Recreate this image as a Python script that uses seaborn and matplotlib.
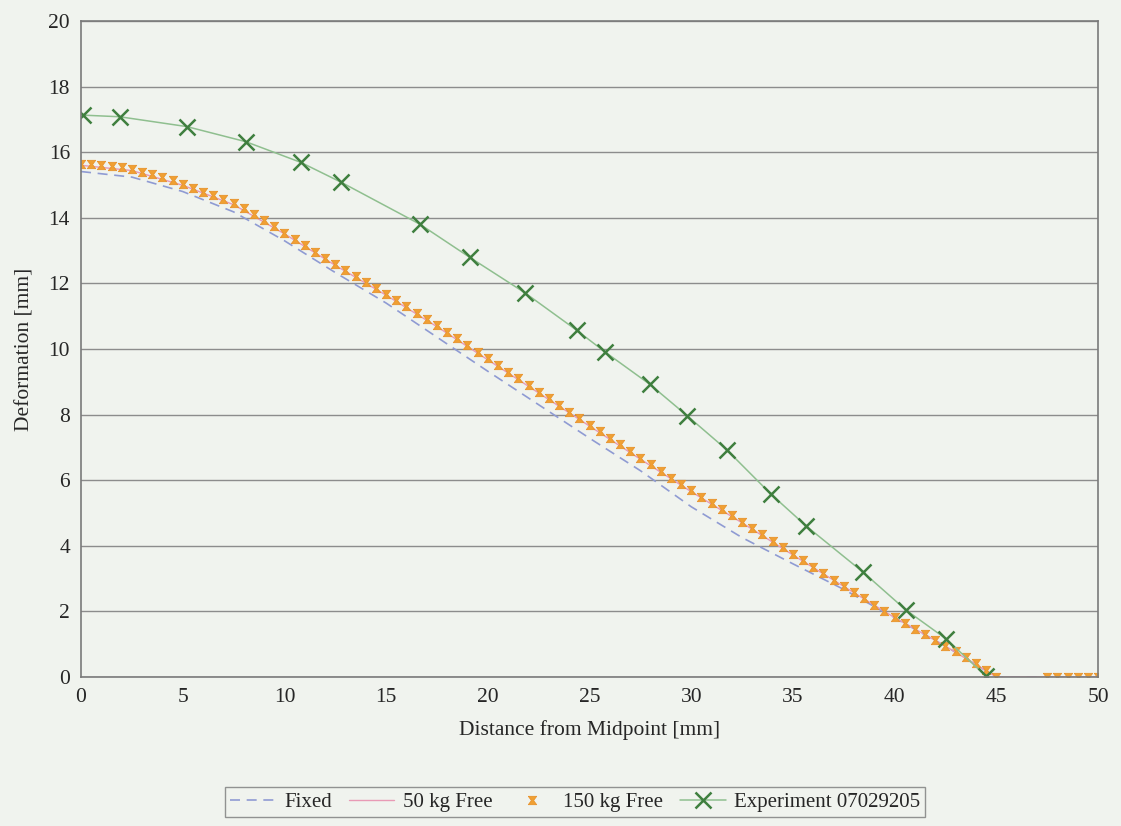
import numpy as np
import pandas as pd
import matplotlib
matplotlib.use("Agg")
import matplotlib.pyplot as plt
import seaborn as sns

# ---------------------------------------------------------
# data
# ---------------------------------------------------------
# 150 kg Free : markers every 0.5 mm
x_150 = [0.0, 0.5, 1.0, 1.5, 2.0, 2.5, 3.0, 3.5, 4.0, 4.5,
         5.0, 5.5, 6.0, 6.5, 7.0, 7.5, 8.0, 8.5, 9.0, 9.5,
         10.0, 10.5, 11.0, 11.5, 12.0, 12.5, 13.0, 13.5, 14.0, 14.5,
         15.0, 15.5, 16.0, 16.5, 17.0, 17.5, 18.0, 18.5, 19.0, 19.5,
         20.0, 20.5, 21.0, 21.5, 22.0, 22.5, 23.0, 23.5, 24.0, 24.5,
         25.0, 25.5, 26.0, 26.5, 27.0, 27.5, 28.0, 28.5, 29.0, 29.5,
         30.0, 30.5, 31.0, 31.5, 32.0, 32.5, 33.0, 33.5, 34.0, 34.5,
         35.0, 35.5, 36.0, 36.5, 37.0, 37.5, 38.0, 38.5, 39.0, 39.5,
         40.0, 40.5, 41.0, 41.5, 42.0, 42.5, 43.0, 43.5, 44.0, 44.5,
         45.0, 47.5, 48.0, 48.5, 49.0, 49.5, 50.0]
y_150 = [15.65, 15.64, 15.62, 15.59, 15.54, 15.48, 15.41, 15.33, 15.24, 15.14,
         15.03, 14.92, 14.80, 14.68, 14.56, 14.44, 14.30, 14.13, 13.94, 13.75,
         13.55, 13.35, 13.16, 12.97, 12.78, 12.59, 12.40, 12.22, 12.04, 11.86,
         11.68, 11.49, 11.30, 11.11, 10.92, 10.72, 10.52, 10.32, 10.11, 9.91,
         9.71, 9.51, 9.31, 9.11, 8.91, 8.70, 8.50, 8.29, 8.09, 7.89,
         7.69, 7.49, 7.29, 7.09, 6.89, 6.68, 6.48, 6.27, 6.07, 5.88,
         5.69, 5.50, 5.31, 5.12, 4.93, 4.74, 4.55, 4.35, 4.15, 3.95,
         3.75, 3.56, 3.36, 3.17, 2.97, 2.78, 2.59, 2.40, 2.21, 2.02,
         1.83, 1.65, 1.47, 1.30, 1.13, 0.96, 0.79, 0.61, 0.42, 0.20,
         0.00, 0.0, 0.0, 0.0, 0.0, 0.0, 0.0]

# Fixed / 50 kg Free : lines
x_line = [0, 2.5, 5, 7.5, 10, 12.5, 15, 17.5, 20, 22.5,
          25, 27.5, 30, 32.5, 35, 37.5, 40, 42.5, 45, 50]
y_fixed = [15.41, 15.24, 14.80, 14.18, 13.30, 12.33, 11.40, 10.36, 9.32, 8.30,
           7.28, 6.29, 5.19, 4.25, 3.45, 2.67, 1.80, 0.94, 0.0, 0.0]
y_50 = [15.60, 15.44, 14.99, 14.40, 13.51, 12.55, 11.64, 10.68, 9.67, 8.66,
        7.65, 6.64, 5.65, 4.70, 3.72, 2.76, 1.81, 0.94, 0.0, 0.0]

# Experiment 07029205
x_exp = [0.08, 1.9, 5.2, 8.1, 10.8, 12.8, 16.67, 19.12, 21.83, 24.37,
         25.76, 27.97, 29.81, 31.74, 33.91, 35.64, 38.46, 40.54, 42.51, 44.49]
y_exp = [17.13, 17.08, 16.78, 16.32, 15.69, 15.08, 13.80, 12.79, 11.71, 10.57,
         9.91, 8.92, 7.96, 6.93, 5.58, 4.61, 3.19, 2.05, 1.17, 0.03]

df_150 = pd.DataFrame({'x': x_150, 'y': y_150})
df_fixed = pd.DataFrame({'x': x_line, 'y': y_fixed})
df_50 = pd.DataFrame({'x': x_line, 'y': y_50})
df_exp = pd.DataFrame({'x': x_exp, 'y': y_exp})

# ---------------------------------------------------------
# style
# ---------------------------------------------------------
bg = '#f0f3ee'
sns.set_style('white')
plt.rcParams['font.family'] = ['Liberation Serif', 'DejaVu Serif']
plt.rcParams['axes.facecolor'] = bg
plt.rcParams['figure.facecolor'] = bg

fig = plt.figure(figsize=(11.21, 8.26), dpi=100)
ax = fig.add_axes([0.0723, 0.1804, 0.9072, 0.7942])

# hourglass marker like the Excel one
hourglass = [(-1, 1), (1, 1), (0.25, 0), (1, -1), (-1, -1), (-0.25, 0), (-1, 1)]

sns.lineplot(data=df_fixed, x='x', y='y', ax=ax, color='#8f9bd3',
             linewidth=1.2, estimator=None, sort=False, label='Fixed',
             dashes=False, linestyle=(0, (6, 4)))
sns.lineplot(data=df_50, x='x', y='y', ax=ax, color='#e89ab5',
             linewidth=1.0, estimator=None, sort=False, label='50 kg Free')
sns.lineplot(data=df_150, x='x', y='y', ax=ax, color='#f0a033',
             linestyle='', marker=hourglass, markersize=6,
             markeredgewidth=0.6, markeredgecolor='#e8922a',
             estimator=None, sort=False, label='150 kg Free')
sns.lineplot(data=df_exp, x='x', y='y', ax=ax, color='#8fbf8f',
             linewidth=1.1, marker='x', markersize=11,
             markeredgewidth=1.8, markeredgecolor='#3f7f3f',
             estimator=None, sort=False, label='Experiment 07029205')

# axes
ax.set_xlim(0, 50)
ax.set_ylim(0, 20)
ax.set_xticks(np.arange(0, 51, 5))
ax.set_yticks(np.arange(0, 21, 2))
ax.yaxis.grid(True, color='#8c8c8c', linewidth=1.0)
ax.set_axisbelow(True)
for s in ax.spines.values():
    s.set_color('#7a7a7a')
    s.set_linewidth(1.2)
ax.tick_params(axis='both', direction='out', length=5, width=1,
               color='#7a7a7a', labelsize=15.5, pad=3)
ax.set_xlabel('Distance from Midpoint [mm]', fontsize=15.5, labelpad=9)
ax.set_ylabel('Deformation [mm]', fontsize=15.5, labelpad=10)

ax.get_legend().remove()
handles, labels = ax.get_legend_handles_labels()
leg = fig.legend(handles, labels, loc='center', bbox_to_anchor=(0.513, 0.029),
                 ncol=4, fontsize=15, frameon=True, fancybox=False,
                 edgecolor='#7a7a7a', facecolor=bg, handlelength=2.2,
                 columnspacing=0.8, handletextpad=0.4, borderpad=0.25)
leg.get_frame().set_linewidth(1.0)

fig.savefig('out.png', dpi=100, facecolor=bg)
